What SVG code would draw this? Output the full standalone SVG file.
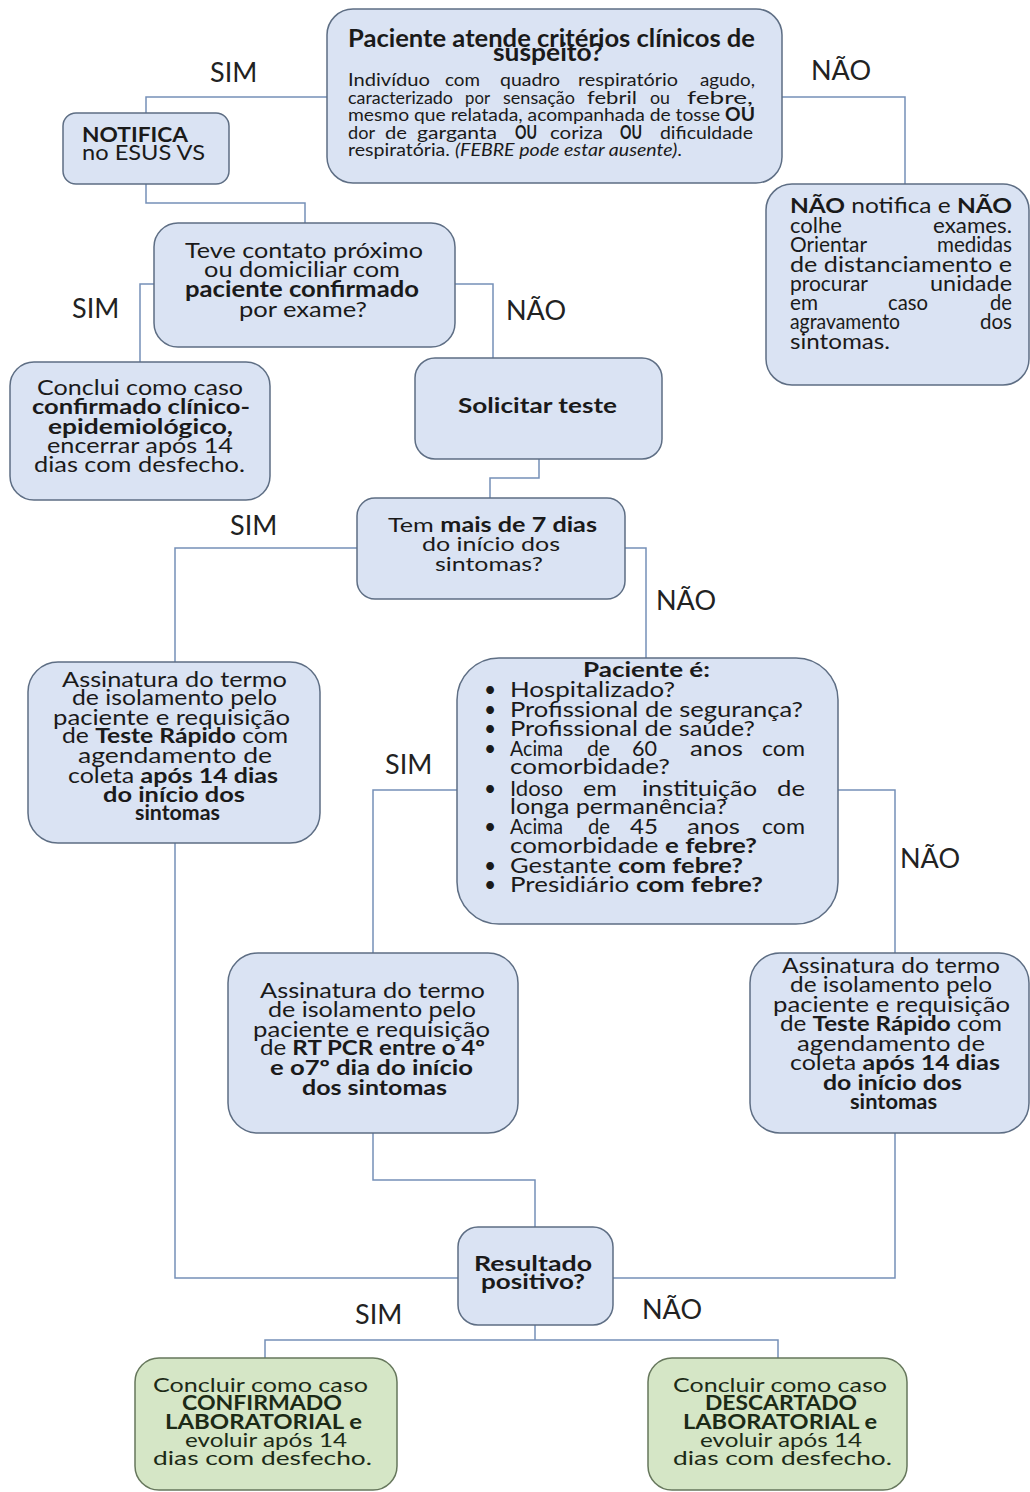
<svg xmlns="http://www.w3.org/2000/svg" width="1030" height="1492" viewBox="0 0 1030 1492">
<style>
text{font-family:Lato,"Open Sans","Liberation Sans",sans-serif;fill:#1a1a1a}
.b{font-weight:700}
.i{font-style:italic}
.lbl{font-size:27px;fill:#222}
.box{fill:#dae3f3;stroke:#5e6e84;stroke-width:1.5}
.gbox{fill:#d5e6c6;stroke:#66775c;stroke-width:1.5}
.g text{fill:#1c2a16}
.conn{fill:none;stroke:#7590b8;stroke-width:1.5}
</style>
<rect width="1030" height="1492" fill="#ffffff"/>

<g id="connectors">
<path class="conn" d="M327,97 H146 V113"/>
<path class="conn" d="M782,97 H905 V184"/>
<path class="conn" d="M146,184 V203 H305 V223"/>
<path class="conn" d="M154,284 H140 V362"/>
<path class="conn" d="M455,284 H493 V358"/>
<path class="conn" d="M539,459 V478 H490 V498"/>
<path class="conn" d="M357,548 H175 V662"/>
<path class="conn" d="M625,548 H646 V658"/>
<path class="conn" d="M457,790 H373 V953"/>
<path class="conn" d="M838,790 H895 V953"/>
<path class="conn" d="M175,843 V1278 H458"/>
<path class="conn" d="M373,1133 V1180 H535 V1227"/>
<path class="conn" d="M895,1133 V1278 H613"/>
<path class="conn" d="M535,1325 V1340 M265,1358 V1340 H778 V1358"/>
</g>

<g id="labels">
<text class="lbl" x="210" y="82">SIM</text>
<text class="lbl" x="811" y="80">NÃO</text>
<text class="lbl" x="72" y="318">SIM</text>
<text class="lbl" x="506" y="320">NÃO</text>
<text class="lbl" x="230" y="535">SIM</text>
<text class="lbl" x="656" y="610">NÃO</text>
<text class="lbl" x="385" y="774">SIM</text>
<text class="lbl" x="900" y="868">NÃO</text>
<text class="lbl" x="355" y="1324">SIM</text>
<text class="lbl" x="642" y="1319">NÃO</text>
</g>

<g id="n_criterios">
<rect class="box" x="327" y="9" width="455" height="174" rx="26"/>
<text class="b" x="348" y="47" font-size="24" textLength="407" lengthAdjust="spacingAndGlyphs">Paciente atende critérios clínicos de</text>
<text class="b" x="493" y="61" font-size="24" textLength="110" lengthAdjust="spacingAndGlyphs">suspeito?</text>
<g font-size="18">
<text x="348" y="86" textLength="82" lengthAdjust="spacingAndGlyphs">Indivíduo</text>
<text x="445" y="86" textLength="35" lengthAdjust="spacingAndGlyphs">com</text>
<text x="500" y="86" textLength="60" lengthAdjust="spacingAndGlyphs">quadro</text>
<text x="578" y="86" textLength="100" lengthAdjust="spacingAndGlyphs">respiratório</text>
<text x="700" y="86" textLength="55" lengthAdjust="spacingAndGlyphs">agudo,</text>
<text x="348" y="103.5" textLength="105" lengthAdjust="spacingAndGlyphs">caracterizado</text>
<text x="465" y="103.5" textLength="25" lengthAdjust="spacingAndGlyphs">por</text>
<text x="503" y="103.5" textLength="72" lengthAdjust="spacingAndGlyphs">sensação</text>
<text x="587" y="103.5" textLength="50" lengthAdjust="spacingAndGlyphs">febril</text>
<text x="650" y="103.5" textLength="20" lengthAdjust="spacingAndGlyphs">ou</text>
<text x="687" y="103.5" textLength="66" lengthAdjust="spacingAndGlyphs">febre,</text>
<text x="348" y="121" textLength="407" lengthAdjust="spacingAndGlyphs">mesmo que relatada, acompanhada de tosse <tspan class="b">OU</tspan></text>
<text x="348" y="138.5" textLength="27" lengthAdjust="spacingAndGlyphs">dor</text>
<text x="385" y="138.5" textLength="22" lengthAdjust="spacingAndGlyphs">de</text>
<text x="417" y="138.5" textLength="80" lengthAdjust="spacingAndGlyphs">garganta</text>
<text class="b" x="515" y="138.5" textLength="22" lengthAdjust="spacingAndGlyphs">OU</text>
<text x="550" y="138.5" textLength="53" lengthAdjust="spacingAndGlyphs">coriza</text>
<text class="b" x="620" y="138.5" textLength="22" lengthAdjust="spacingAndGlyphs">OU</text>
<text x="660" y="138.5" textLength="93" lengthAdjust="spacingAndGlyphs">dificuldade</text>
<text x="348" y="156" textLength="334" lengthAdjust="spacingAndGlyphs">respiratória. <tspan class="i">(FEBRE pode estar ausente)</tspan>.</text>
</g>
</g>

<g id="n_notifica">
<rect class="box" x="63" y="113" width="166" height="71" rx="13"/>
<text class="b" x="82" y="142" font-size="21" textLength="106" lengthAdjust="spacingAndGlyphs">NOTIFICA</text>
<text x="82" y="160" font-size="22" textLength="123" lengthAdjust="spacingAndGlyphs">no ESUS VS</text>
</g>

<g id="n_nao_notifica" font-size="21">
<rect class="box" x="766" y="184" width="263" height="201" rx="26"/>
<text x="790" y="213" textLength="222" lengthAdjust="spacingAndGlyphs"><tspan class="b">NÃO</tspan> notifica e <tspan class="b">NÃO</tspan></text>
<text x="790" y="233" textLength="52" lengthAdjust="spacingAndGlyphs">colhe</text>
<text x="933" y="233" textLength="79" lengthAdjust="spacingAndGlyphs">exames.</text>
<text x="790" y="252" textLength="77" lengthAdjust="spacingAndGlyphs">Orientar</text>
<text x="937" y="252" textLength="75" lengthAdjust="spacingAndGlyphs">medidas</text>
<text x="790" y="272" textLength="222" lengthAdjust="spacingAndGlyphs">de distanciamento e</text>
<text x="790" y="291" textLength="78" lengthAdjust="spacingAndGlyphs">procurar</text>
<text x="930" y="291" textLength="82" lengthAdjust="spacingAndGlyphs">unidade</text>
<text x="790" y="310" textLength="28" lengthAdjust="spacingAndGlyphs">em</text>
<text x="888" y="310" textLength="40" lengthAdjust="spacingAndGlyphs">caso</text>
<text x="990" y="310" textLength="22" lengthAdjust="spacingAndGlyphs">de</text>
<text x="790" y="329" textLength="110" lengthAdjust="spacingAndGlyphs">agravamento</text>
<text x="980" y="329" textLength="32" lengthAdjust="spacingAndGlyphs">dos</text>
<text x="790" y="349" textLength="100" lengthAdjust="spacingAndGlyphs">sintomas.</text>
</g>

<g id="n_contato" font-size="22">
<rect class="box" x="154" y="223" width="301" height="124" rx="24"/>
<text x="185" y="258" textLength="238" lengthAdjust="spacingAndGlyphs">Teve contato próximo</text>
<text x="204" y="277" textLength="196" lengthAdjust="spacingAndGlyphs">ou domiciliar com</text>
<text class="b" x="185" y="297" textLength="234" lengthAdjust="spacingAndGlyphs">paciente confirmado</text>
<text x="239" y="317" textLength="128" lengthAdjust="spacingAndGlyphs">por exame?</text>
</g>

<g id="n_conclui" font-size="21">
<rect class="box" x="10" y="362" width="260" height="138" rx="24"/>
<text x="37" y="395" textLength="206" lengthAdjust="spacingAndGlyphs">Conclui como caso</text>
<text class="b" x="32" y="414" textLength="218" lengthAdjust="spacingAndGlyphs">confirmado clínico-</text>
<text class="b" x="48" y="434" textLength="185" lengthAdjust="spacingAndGlyphs">epidemiológico,</text>
<text x="47" y="453" textLength="186" lengthAdjust="spacingAndGlyphs">encerrar após 14</text>
<text x="34" y="472" textLength="211" lengthAdjust="spacingAndGlyphs">dias com desfecho.</text>
</g>

<g id="n_solicitar">
<rect class="box" x="415" y="358" width="247" height="101" rx="20"/>
<text class="b" x="458" y="413" font-size="20" textLength="159" lengthAdjust="spacingAndGlyphs">Solicitar teste</text>
</g>

<g id="n_7dias" font-size="20">
<rect class="box" x="357" y="498" width="268" height="101" rx="18"/>
<text x="388" y="532" textLength="209" lengthAdjust="spacingAndGlyphs">Tem <tspan class="b">mais de 7 dias</tspan></text>
<text x="422" y="551" textLength="138" lengthAdjust="spacingAndGlyphs">do início dos</text>
<text x="435" y="571" textLength="108" lengthAdjust="spacingAndGlyphs">sintomas?</text>
</g>

<g id="n_teste_rapido_1" font-size="21">
<rect class="box" x="28" y="662" width="292" height="181" rx="30"/>
<text x="62" y="687" textLength="225" lengthAdjust="spacingAndGlyphs">Assinatura do termo</text>
<text x="72" y="705" textLength="205" lengthAdjust="spacingAndGlyphs">de isolamento pelo</text>
<text x="53" y="725" textLength="237" lengthAdjust="spacingAndGlyphs">paciente e requisição</text>
<text x="62" y="743" textLength="226" lengthAdjust="spacingAndGlyphs">de <tspan class="b">Teste Rápido</tspan> com</text>
<text x="78" y="763" textLength="194" lengthAdjust="spacingAndGlyphs">agendamento de</text>
<text x="68" y="783" textLength="210" lengthAdjust="spacingAndGlyphs">coleta <tspan class="b">após 14 dias</tspan></text>
<text class="b" x="103" y="802" textLength="142" lengthAdjust="spacingAndGlyphs">do início dos</text>
<text class="b" x="135" y="820" textLength="85" lengthAdjust="spacingAndGlyphs">sintomas</text>
</g>

<g id="n_paciente" font-size="21">
<rect class="box" x="457" y="658" width="381" height="266" rx="42"/>
<text class="b" x="583" y="677" font-size="20" textLength="127" lengthAdjust="spacingAndGlyphs">Paciente é:</text>
<g text-anchor="middle">
<text x="490" y="697">•</text>
<text x="490" y="717">•</text>
<text x="490" y="736">•</text>
<text x="490" y="756">•</text>
<text x="490" y="796">•</text>
<text x="490" y="834">•</text>
<text x="490" y="873">•</text>
<text x="490" y="892">•</text>
</g>
<text x="510" y="697" textLength="165" lengthAdjust="spacingAndGlyphs">Hospitalizado?</text>
<text x="510" y="717" textLength="293" lengthAdjust="spacingAndGlyphs">Profissional de segurança?</text>
<text x="510" y="736" textLength="245" lengthAdjust="spacingAndGlyphs">Profissional de saúde?</text>
<text x="510" y="756" textLength="53" lengthAdjust="spacingAndGlyphs">Acima</text>
<text x="587" y="756" textLength="23" lengthAdjust="spacingAndGlyphs">de</text>
<text x="632" y="756" textLength="25" lengthAdjust="spacingAndGlyphs">60</text>
<text x="690" y="756" textLength="53" lengthAdjust="spacingAndGlyphs">anos</text>
<text x="762" y="756" textLength="43" lengthAdjust="spacingAndGlyphs">com</text>
<text x="510" y="774" textLength="160" lengthAdjust="spacingAndGlyphs">comorbidade?</text>
<text x="510" y="796" textLength="53" lengthAdjust="spacingAndGlyphs">Idoso</text>
<text x="583" y="796" textLength="34" lengthAdjust="spacingAndGlyphs">em</text>
<text x="642" y="796" textLength="115" lengthAdjust="spacingAndGlyphs">instituição</text>
<text x="777" y="796" textLength="28" lengthAdjust="spacingAndGlyphs">de</text>
<text x="510" y="814" textLength="217" lengthAdjust="spacingAndGlyphs">longa permanência?</text>
<text x="510" y="834" textLength="53" lengthAdjust="spacingAndGlyphs">Acima</text>
<text x="588" y="834" textLength="22" lengthAdjust="spacingAndGlyphs">de</text>
<text x="630" y="834" textLength="28" lengthAdjust="spacingAndGlyphs">45</text>
<text x="687" y="834" textLength="53" lengthAdjust="spacingAndGlyphs">anos</text>
<text x="762" y="834" textLength="43" lengthAdjust="spacingAndGlyphs">com</text>
<text x="510" y="853" textLength="247" lengthAdjust="spacingAndGlyphs">comorbidade <tspan class="b">e febre?</tspan></text>
<text x="510" y="873" textLength="233" lengthAdjust="spacingAndGlyphs">Gestante <tspan class="b">com febre?</tspan></text>
<text x="510" y="892" textLength="253" lengthAdjust="spacingAndGlyphs">Presidiário <tspan class="b">com febre?</tspan></text>
</g>

<g id="n_rtpcr" font-size="21">
<rect class="box" x="228" y="953" width="290" height="180" rx="30"/>
<text x="260" y="998" textLength="225" lengthAdjust="spacingAndGlyphs">Assinatura do termo</text>
<text x="268" y="1017" textLength="208" lengthAdjust="spacingAndGlyphs">de isolamento pelo</text>
<text x="253" y="1037" textLength="237" lengthAdjust="spacingAndGlyphs">paciente e requisição</text>
<text x="260" y="1055" textLength="225" lengthAdjust="spacingAndGlyphs">de <tspan class="b">RT PCR entre o 4º</tspan></text>
<text class="b" x="270" y="1075" textLength="203" lengthAdjust="spacingAndGlyphs">e o7º dia do início</text>
<text class="b" x="302" y="1095" textLength="145" lengthAdjust="spacingAndGlyphs">dos sintomas</text>
</g>

<g id="n_teste_rapido_2" font-size="21">
<rect class="box" x="750" y="953" width="279" height="180" rx="30"/>
<text x="782" y="973" textLength="218" lengthAdjust="spacingAndGlyphs">Assinatura do termo</text>
<text x="790" y="992" textLength="202" lengthAdjust="spacingAndGlyphs">de isolamento pelo</text>
<text x="773" y="1012" textLength="237" lengthAdjust="spacingAndGlyphs">paciente e requisição</text>
<text x="780" y="1031" textLength="222" lengthAdjust="spacingAndGlyphs">de <tspan class="b">Teste Rápido</tspan> com</text>
<text x="797" y="1051" textLength="188" lengthAdjust="spacingAndGlyphs">agendamento de</text>
<text x="790" y="1070" textLength="210" lengthAdjust="spacingAndGlyphs">coleta <tspan class="b">após 14 dias</tspan></text>
<text class="b" x="823" y="1090" textLength="139" lengthAdjust="spacingAndGlyphs">do início dos</text>
<text class="b" x="850" y="1109" textLength="87" lengthAdjust="spacingAndGlyphs">sintomas</text>
</g>

<g id="n_resultado" font-size="20">
<rect class="box" x="458" y="1227" width="155" height="98" rx="20"/>
<text class="b" x="474" y="1271" textLength="118" lengthAdjust="spacingAndGlyphs">Resultado</text>
<text class="b" x="481" y="1289" textLength="104" lengthAdjust="spacingAndGlyphs">positivo?</text>
</g>

<g id="n_confirmado" class="g" font-size="20">
<rect class="gbox" x="135" y="1358" width="262" height="132" rx="24"/>
<text x="153" y="1392" textLength="215" lengthAdjust="spacingAndGlyphs">Concluir como caso</text>
<text class="b" x="182" y="1410" textLength="160" lengthAdjust="spacingAndGlyphs">CONFIRMADO</text>
<text class="b" x="165" y="1429" textLength="197" lengthAdjust="spacingAndGlyphs">LABORATORIAL e</text>
<text x="185" y="1447" textLength="162" lengthAdjust="spacingAndGlyphs">evoluir após 14</text>
<text x="153" y="1465" textLength="219" lengthAdjust="spacingAndGlyphs">dias com desfecho.</text>
</g>

<g id="n_descartado" class="g" font-size="20">
<rect class="gbox" x="648" y="1358" width="259" height="132" rx="24"/>
<text x="673" y="1392" textLength="214" lengthAdjust="spacingAndGlyphs">Concluir como caso</text>
<text class="b" x="705" y="1410" textLength="152" lengthAdjust="spacingAndGlyphs">DESCARTADO</text>
<text class="b" x="683" y="1429" textLength="194" lengthAdjust="spacingAndGlyphs">LABORATORIAL e</text>
<text x="700" y="1447" textLength="162" lengthAdjust="spacingAndGlyphs">evoluir após 14</text>
<text x="673" y="1465" textLength="219" lengthAdjust="spacingAndGlyphs">dias com desfecho.</text>
</g>
</svg>
